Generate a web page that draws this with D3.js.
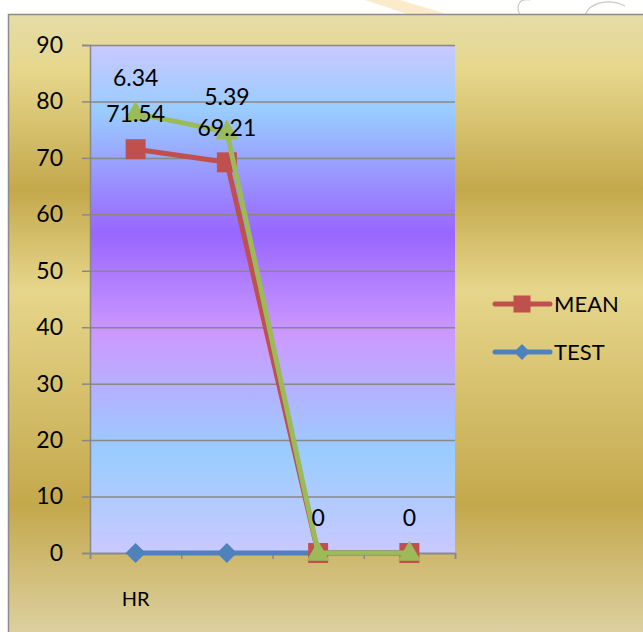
<!DOCTYPE html>
<html>
<head>
<meta charset="utf-8">
<script src="https://cdn.jsdelivr.net/npm/d3@7"></script>
<style>
  body { margin: 0; background: #fff; }
  svg { display: block; font-family: Lato, "Open Sans", sans-serif; }
</style>
</head>
<body>
<svg id="chart" width="643" height="632"></svg>
<script>
// chart values
var categories = ["HR", "", "", ""];
var testValues = [0, 0, 0, 0];
var meanValues = [71.54, 69.21, 0, 0];
var sdValues = [6.34, 5.39, 0, 0];
var yTicks = [0, 10, 20, 30, 40, 50, 60, 70, 80, 90];
var legendNames = ["MEAN", "TEST"];

var svg = d3.select("#chart");
var defs = svg.append("defs");

var margin = {left: 90, top: 45, right: 455, bottom: 553};

// gold chart area fill
var gold = defs.append("linearGradient").attr("id", "gold")
    .attr("gradientUnits", "userSpaceOnUse")
    .attr("x1", 0).attr("y1", 15).attr("x2", 0).attr("y2", 632);
[[15, "#e5dca8"], [70, "#e6d78c"], [190, "#c4a84c"], [290, "#e6d68b"], [505, "#c4a84c"], [632, "#ddd0a0"]]
    .forEach(function (s) {
        gold.append("stop").attr("offset", (s[0] - 15) / 617).attr("stop-color", s[1]);
    });

// plot area fill
var plotFill = defs.append("linearGradient").attr("id", "plotFill")
    .attr("x1", 0).attr("y1", 0).attr("x2", 0).attr("y2", 1);
[[0, "#c9c9ff"], [0.13, "#99ccff"], [0.37, "#9966ff"], [0.57, "#cc99ff"], [0.8, "#99ccff"], [1, "#c9c9ff"]]
    .forEach(function (s) {
        plotFill.append("stop").attr("offset", s[0]).attr("stop-color", s[1]);
    });

// faint watermark at the top edge
svg.append("path").attr("d", "M365 0L400 0L450 15L410 15Z").attr("fill", "#f7c56a").attr("opacity", 0.35);
svg.append("path").attr("d", "M585 15C590 2 610 -2 625 6M520 15C515 5 520 -2 530 0")
    .attr("fill", "none").attr("stroke", "#c8c8c8").attr("stroke-width", 1.2);

// chart area
svg.append("rect").attr("x", 8.5).attr("y", 14.5).attr("width", 700).attr("height", 700)
    .attr("fill", "url(#gold)").attr("stroke", "#8c8c8c").attr("stroke-width", 1.5);

var x = d3.scaleBand().domain(d3.range(categories.length)).range([margin.left, margin.right]);
var xEdge = d3.scaleLinear().domain([0, categories.length]).range([margin.left, margin.right]);
var y = d3.scaleLinear().domain([0, 90]).range([margin.bottom, margin.top]);

svg.append("rect").attr("x", margin.left).attr("y", margin.top)
    .attr("width", margin.right - margin.left).attr("height", margin.bottom - margin.top)
    .attr("fill", "url(#plotFill)");

// gridlines
svg.append("g").attr("transform", "translate(" + margin.left + ",0)")
    .call(d3.axisLeft(y).tickValues(yTicks).tickSize(-(margin.right - margin.left)).tickFormat(""))
    .call(function (g) {
        g.select(".domain").remove();
        g.selectAll("line").attr("stroke", "#888").attr("stroke-width", 1.5);
    });

// y axis
svg.append("g").attr("transform", "translate(" + margin.left + ",0)")
    .call(d3.axisLeft(y).tickValues(yTicks).tickSize(8).tickPadding(19))
    .call(function (g) {
        g.select(".domain").attr("stroke", "#888").attr("stroke-width", 1.5);
        g.selectAll("line").attr("stroke", "#888").attr("stroke-width", 1.5);
        g.selectAll("text").style("font-size", "23px").style("fill", "#000").style("font-family", "Lato");
    });

// x axis
svg.append("g").attr("transform", "translate(0," + margin.bottom + ")")
    .call(d3.axisBottom(xEdge).tickValues(d3.range(categories.length + 1)).tickSize(6).tickFormat(""))
    .call(function (g) {
        g.select(".domain").attr("stroke", "#888").attr("stroke-width", 1.5);
        g.selectAll("line").attr("stroke", "#888").attr("stroke-width", 1.5);
    });
svg.append("g").selectAll("text").data(categories).join("text")
    .attr("x", function (d, i) { return x(i) + x.bandwidth() / 2; })
    .attr("y", 606).attr("text-anchor", "middle")
    .style("font-size", "20px").text(function (d) { return d; });

// stacked series
var rows = categories.map(function (c, i) {
    return {i: i, test: testValues[i], mean: meanValues[i], sd: sdValues[i]};
});
var stacked = d3.stack().keys(["test", "mean", "sd"])(rows);
var colors = {test: "#4f81bd", mean: "#c0504d", sd: "#9bbb59"};
var cx = function (d, i) { return x(i) + x.bandwidth() / 2; };

var line = d3.line().x(function (d, i) { return cx(d, i); }).y(function (d) { return y(d[1]); });

stacked.forEach(function (s) {
    var g = svg.append("g");
    var col = colors[s.key];
    g.append("path").datum(s).attr("d", line)
        .attr("fill", "none").attr("stroke", col).attr("stroke-width", 5).attr("stroke-linejoin", "round");
    var sym = s.key == "sd" ? d3.symbolTriangle : d3.symbolSquare;
    var size = s.key == "test" ? 200 : (s.key == "mean" ? 400 : 230);
    g.selectAll("path.m").data(s).join("path").attr("class", "m")
        .attr("d", d3.symbol().type(sym).size(size))
        .attr("transform", function (d, i) {
            return "translate(" + cx(d, i) + "," + (y(d[1]) + (s.key == "sd" ? 1 : 0)) + ")" +
                (s.key == "test" ? " rotate(45)" : "");
        })
        .attr("fill", col);
});

// data labels
var topSeries = stacked[2];
svg.append("g").selectAll("text").data(meanValues).join("text")
    .attr("x", function (d, i) { return cx(d, i); })
    .attr("y", function (d, i) { return y(topSeries[i][1]) + (i == 0 ? 9 : 4); })
    .attr("text-anchor", "middle").style("font-size", "23px")
    .text(function (d) { return d ? d.toFixed(2) : ""; });
svg.append("g").selectAll("text").data(sdValues).join("text")
    .attr("x", function (d, i) { return cx(d, i); })
    .attr("y", function (d, i) { return y(topSeries[i][1]) - 27; })
    .attr("text-anchor", "middle").style("font-size", "23px")
    .text(function (d) { return d ? d.toFixed(2) : "0"; });

// legend
var legend = svg.append("g").selectAll("g").data(legendNames).join("g")
    .attr("transform", function (d, i) { return "translate(495," + (304 + i * 48) + ")"; });
legend.append("line").attr("x1", 0).attr("x2", 55)
    .attr("stroke", function (d) { return d == "MEAN" ? colors.mean : colors.test; })
    .attr("stroke-width", 5).attr("stroke-linecap", "round");
legend.append("path")
    .attr("d", function (d) { return d3.symbol().type(d3.symbolSquare).size(d == "MEAN" ? 290 : 128)(); })
    .attr("transform", function (d) { return "translate(27,0)" + (d == "TEST" ? " rotate(45)" : ""); })
    .attr("fill", function (d) { return d == "MEAN" ? colors.mean : colors.test; });
legend.append("text").attr("x", 59).attr("y", 8).style("font-size", "22px").text(function (d) { return d; });
</script>
</body>
</html>
